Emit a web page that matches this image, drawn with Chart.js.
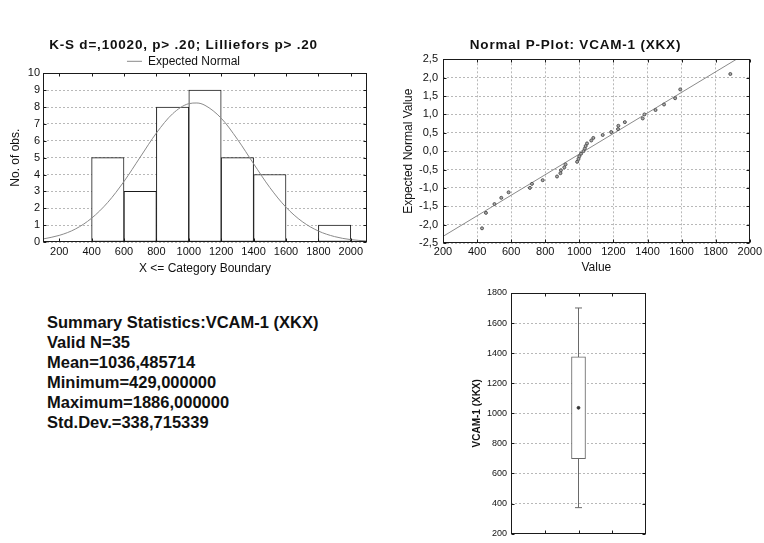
<!DOCTYPE html>
<html>
<head>
<meta charset="utf-8">
<script src="https://cdn.jsdelivr.net/npm/chart.js@4.4.1/dist/chart.umd.min.js"></script>
<style>
  html, body { margin: 0; padding: 0; background: #ffffff; }
  body { width: 764px; height: 543px; position: relative; overflow: hidden; }
  canvas { position: absolute; }
  #summary { position: absolute; left: 47px; top: 312px; font: bold 16.5px "Liberation Sans", Arial, sans-serif;
             line-height: 20px; color: #111; white-space: pre; }
</style>
</head>
<body>
<canvas id="hist" width="380" height="255" style="left:0px;top:30px"></canvas>
<canvas id="pplot" width="364" height="255" style="left:400px;top:30px"></canvas>
<canvas id="box" width="200" height="263" style="left:460px;top:280px"></canvas>
<div id="summary"></div>
<script>
// ---------------- data ----------------
// Histogram: bins (X <= category boundary) and counts
const binStarts = [400, 600, 800, 1000, 1200, 1400, 1600, 1800];
const binCounts = [5, 3, 8, 9, 5, 4, 0, 1];
const binWidth = 200;
const histXTicks = [200, 400, 600, 800, 1000, 1200, 1400, 1600, 1800, 2000];
const histYTicks = [0, 1, 2, 3, 4, 5, 6, 7, 8, 9, 10];
// Expected normal curve
const curveX = [100, 200, 300, 400, 500, 600, 700, 800, 900, 1000, 1050, 1100, 1200, 1300, 1400, 1500, 1600, 1700, 1800, 1900, 2000, 2100];
const curveY = [0.18, 0.39, 0.77, 1.41, 2.35, 3.59, 5.03, 6.46, 7.60, 8.20, 8.24, 8.10, 7.34, 6.09, 4.64, 3.23, 2.06, 1.21, 0.65, 0.32, 0.14, 0.06];

// Normal probability plot
const pValues = [429, 452, 502, 542, 585, 710, 722, 785, 869, 889, 892, 912, 919, 987, 995, 1000,
                 1010, 1024, 1032, 1037, 1045, 1070, 1082, 1137, 1187, 1227, 1229, 1267, 1372, 1382,
                 1447, 1497, 1562, 1592, 1886];
const pExpected = [-2.10, -1.68, -1.44, -1.27, -1.12, -1.00, -0.89, -0.79, -0.69, -0.60, -0.52, -0.44,
                   -0.36, -0.29, -0.21, -0.14, -0.07, 0.00, 0.07, 0.14, 0.21, 0.29, 0.36, 0.44, 0.52,
                   0.60, 0.69, 0.79, 0.89, 1.00, 1.12, 1.27, 1.44, 1.68, 2.10];
const fitLineX = [200, 2000];
const fitLineY = [-2.32, 2.72];
const pXTicks = [200, 400, 600, 800, 1000, 1200, 1400, 1600, 1800, 2000];
const pYTicks = [-2.5, -2.0, -1.5, -1.0, -0.5, 0.0, 0.5, 1.0, 1.5, 2.0, 2.5];

// Box plot (mean, mean±SD, mean±1.96*SD)
const boxCategory = 2;
const boxMean = 1036.5;
const boxLow = 697.8;
const boxHigh = 1375.2;
const whiskerLow = 372.6;
const whiskerHigh = 1700.4;
const boxYTicks = [200, 400, 600, 800, 1000, 1200, 1400, 1600, 1800];
const boxXTicks = [1, 2, 3];

// Summary text
const summaryLines = [
  'Summary Statistics:VCAM-1 (XKX)',
  'Valid N=35',
  'Mean=1036,485714',
  'Minimum=429,000000',
  'Maximum=1886,000000',
  'Std.Dev.=338,715339'
];

// ---------------- setup ----------------
const FONT = '"Liberation Sans", Arial, Helvetica, sans-serif';
Chart.defaults.font.family = FONT;
Chart.defaults.color = '#111';
Chart.defaults.animation = false;
Chart.defaults.events = [];
Chart.defaults.plugins.tooltip.enabled = false;

const GRID = '#b8b8b8';
const fixedTicks = arr => s => { s.ticks = arr.map(v => ({ value: v })); };
const comma1 = v => Number(v).toFixed(1).replace('.', ',');

const framePlugin = {
  id: 'frame',
  afterDatasetsDraw(chart, args, opts) {
    const { ctx, chartArea: a } = chart;
    const L = opts.tick || 3;
    ctx.save();
    ctx.strokeStyle = opts.color || '#222';
    ctx.lineWidth = 1;
    const l = Math.round(a.left) + 0.5, r = Math.round(a.right) - 0.5;
    const t = Math.round(a.top) + 0.5, b = Math.round(a.bottom) - 0.5;
    ctx.strokeRect(l, t, r - l, b - t);
    ctx.beginPath();
    const xs = chart.scales.x, ys = chart.scales.y;
    xs.ticks.forEach(tk => {
      const px = Math.round(xs.getPixelForValue(tk.value)) + 0.5;
      ctx.moveTo(px, b); ctx.lineTo(px, b - L);
      ctx.moveTo(px, t); ctx.lineTo(px, t + L);
    });
    ys.ticks.forEach(tk => {
      const py = Math.round(ys.getPixelForValue(tk.value)) + 0.5;
      ctx.moveTo(l, py); ctx.lineTo(l + L, py);
      ctx.moveTo(r, py); ctx.lineTo(r - L, py);
    });
    ctx.stroke();
    ctx.restore();
  }
};

const spacedTitle = {
  id: 'spacedTitle',
  beforeDraw(chart, args, opts) {
    const tb = chart.titleBlock;
    if (tb && !tb.__spaced) {
      const orig = tb.draw;
      tb.draw = function (...a) {
        const c = this.ctx; c.save();
        try { c.letterSpacing = opts.spacing || '1px'; } catch (e) {}
        orig.apply(this, a); c.restore();
      };
      tb.__spaced = true;
    }
  }
};

// ---------------- histogram ----------------
new Chart(document.getElementById('hist'), {
  type: 'bar',
  data: {
    datasets: [
      {
        type: 'line', label: 'Expected Normal',
        data: curveX.map((x, i) => ({ x, y: curveY[i] })),
        borderColor: '#8a8a8a', borderWidth: 1, pointRadius: 0,
        cubicInterpolationMode: 'monotone', order: 0
      },
      {
        type: 'bar', label: 'No. of obs.',
        data: binStarts.map((s, i) => ({ x: s + binWidth / 2, y: binCounts[i] })),
        backgroundColor: '#ffffff', borderColor: '#1a1a1a', borderWidth: 1, borderSkipped: false,
        barPercentage: 1, categoryPercentage: 1, order: 1
      }
    ]
  },
  plugins: [framePlugin, spacedTitle],
  options: {
    responsive: false,
    layout: { padding: { left: 0, right: 13, top: 0, bottom: 0 } },
    plugins: {
      spacedTitle: { spacing: '0.8px' },
      frame: { color: '#1a1a1a', tick: 3 },
      title: {
        display: true, text: 'K-S d=,10020, p> .20; Lilliefors p> .20', color: '#111',
        font: { size: 13.5, weight: 'bold', lineHeight: 1.2 }, padding: { top: 6.9, bottom: 2.2 }
      },
      legend: {
        display: true, position: 'top', maxHeight: 18,
        labels: {
          filter: item => item.text === 'Expected Normal',
          usePointStyle: true, pointStyle: 'line', pointStyleWidth: 15, boxHeight: 12,
          padding: 0, color: '#111', font: { size: 12 }
        }
      }
    },
    scales: {
      x: {
        type: 'linear', min: 100, max: 2100, offset: false,
        afterBuildTicks: fixedTicks(histXTicks),
        ticks: { padding: 3, maxRotation: 0, autoSkip: false, font: { size: 11 }, callback: v => String(v) },
        grid: { display: false, drawTicks: false },
        border: { display: false },
        title: { display: true, text: 'X <= Category Boundary', font: { size: 12 }, padding: { top: 0, bottom: 9.1 } },
        afterFit: s => { s.height = 43; }
      },
      y: {
        min: 0, max: 10,
        afterBuildTicks: fixedTicks(histYTicks),
        ticks: { padding: 3, font: { size: 11 }, callback: v => String(v) },
        grid: { color: GRID, drawTicks: false },
        border: { display: false, dash: [2, 2] },
        title: { display: true, text: 'No. of obs.', font: { size: 12 }, padding: { top: 8.8, bottom: 0 } },
        afterFit: s => { s.width = 43; }
      }
    }
  }
});

// ---------------- normal P-plot ----------------
new Chart(document.getElementById('pplot'), {
  type: 'scatter',
  data: {
    datasets: [
      {
        type: 'line', label: 'Fit',
        data: fitLineX.map((x, i) => ({ x, y: fitLineY[i] })),
        borderColor: '#8a8a8a', borderWidth: 1, pointRadius: 0, order: 1
      },
      {
        type: 'scatter', label: 'VCAM-1 (XKX)',
        data: pValues.map((x, i) => ({ x, y: pExpected[i] })),
        pointRadius: 1.5, pointBorderWidth: 1, pointBorderColor: '#555555', pointBackgroundColor: '#a8a8a8', order: 0
      }
    ]
  },
  plugins: [framePlugin, spacedTitle],
  options: {
    responsive: false,
    layout: { padding: { left: 0, right: 13, top: 0, bottom: 0 } },
    plugins: {
      spacedTitle: { spacing: '0.8px' },
      frame: { color: '#1a1a1a', tick: 3 },
      legend: { display: false },
      title: {
        display: true, text: 'Normal P-Plot: VCAM-1 (XKX)', color: '#111',
        font: { size: 13.5, weight: 'bold', lineHeight: 1.2 }, padding: { top: 6.9, bottom: 6.2 }
      }
    },
    scales: {
      x: {
        type: 'linear', min: 200, max: 2000,
        afterBuildTicks: fixedTicks(pXTicks),
        ticks: { padding: 2, maxRotation: 0, autoSkip: false, font: { size: 11 }, callback: v => String(v) },
        grid: { color: GRID, drawTicks: false },
        border: { display: false, dash: [2, 2] },
        title: { display: true, text: 'Value', font: { size: 12 }, padding: { top: 0, bottom: 10.1 } },
        afterFit: s => { s.height = 42; }
      },
      y: {
        type: 'linear', min: -2.5, max: 2.5,
        afterBuildTicks: fixedTicks(pYTicks),
        ticks: { padding: 5, font: { size: 11 }, callback: comma1 },
        grid: { color: GRID, drawTicks: false },
        border: { display: false, dash: [2, 2] },
        title: { display: true, text: 'Expected Normal Value', font: { size: 12 }, padding: { top: 1.1, bottom: 0 } },
        afterFit: s => { s.width = 43; }
      }
    }
  }
});

// ---------------- box plot ----------------
new Chart(document.getElementById('box'), {
  type: 'bar',
  data: {
    datasets: [
      {
        type: 'line', label: 'Whisker',
        data: [{ x: boxCategory, y: whiskerLow }, { x: boxCategory, y: whiskerHigh }],
        borderColor: '#6a6a6a', borderWidth: 1, pointRadius: 0, order: 3
      },
      {
        type: 'scatter', label: 'Mean±1.96*SD',
        data: [{ x: boxCategory, y: whiskerLow }, { x: boxCategory, y: whiskerHigh }],
        pointStyle: 'line', pointRadius: 3.5, pointBorderColor: '#6a6a6a', pointBorderWidth: 1, order: 2
      },
      {
        type: 'bar', label: 'Mean±SD',
        data: [{ x: boxCategory, y: [boxLow, boxHigh] }],
        backgroundColor: '#ffffff', borderColor: '#6a6a6a', borderWidth: 1, borderSkipped: false,
        barThickness: 14, order: 1
      },
      {
        type: 'scatter', label: 'Mean',
        data: [{ x: boxCategory, y: boxMean }],
        pointRadius: 1.4, pointBackgroundColor: '#333', pointBorderColor: '#333', order: 0
      }
    ]
  },
  plugins: [framePlugin],
  options: {
    responsive: false,
    layout: { padding: { left: 0, right: 14, top: 13, bottom: 3 } },
    plugins: {
      frame: { color: '#1a1a1a', tick: 3 },
      legend: { display: false },
      title: { display: false }
    },
    scales: {
      x: {
        type: 'linear', min: 0, max: 4, offset: false,
        afterBuildTicks: fixedTicks(boxXTicks),
        ticks: { display: false },
        grid: { display: false, drawTicks: false },
        border: { display: false },
        afterFit: s => { s.height = 0; }
      },
      y: {
        type: 'linear', min: 200, max: 1800,
        afterBuildTicks: fixedTicks(boxYTicks),
        ticks: { padding: 4, font: { size: 9 }, callback: v => String(v) },
        grid: { color: GRID, drawTicks: false },
        border: { display: false, dash: [2, 2] },
        title: { display: true, text: 'VCAM-1 (XKX)', font: { size: 10, weight: 'bold' }, padding: { top: 11, bottom: 0 } },
        afterFit: s => { s.width = 51; }
      }
    }
  }
});

// ---------------- summary text ----------------
document.getElementById('summary').textContent = summaryLines.join('\n');
</script>
</body>
</html>
